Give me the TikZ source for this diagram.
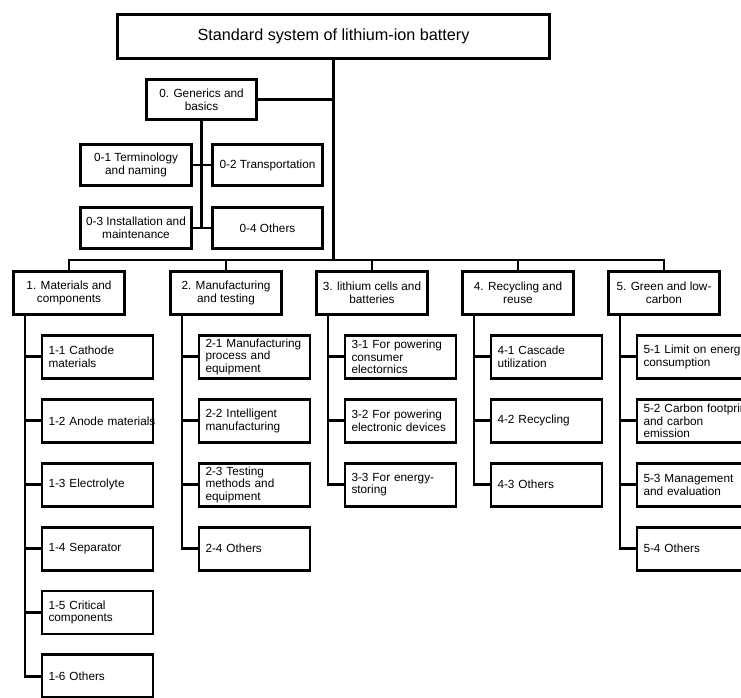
\documentclass[tikz,border=0pt]{standalone}
\usepackage{fontspec}
\setmainfont{Liberation Sans}
\usetikzlibrary{positioning}
\hyphenpenalty=10000
\exhyphenpenalty=10000

\tikzset{
  stdbox/.style={draw, rectangle, line width=2.9pt, align=center, inner sep=2pt,
    font=\fontsize{11.8}{12.6}\selectfont},
  rootbox/.style={stdbox, minimum width=432pt, minimum height=44pt,
    font=\fontsize{16.2}{18}\selectfont},
  groupbox/.style={stdbox, minimum width=111pt, minimum height=43pt},
  itembox/.style={stdbox, align=left, text width=98pt, inner xsep=6.5pt,
    minimum height=43pt},
  link/.style={line width=2.9pt}
}

\begin{document}
\begin{tikzpicture}[x=1pt, y=-1pt, node distance=18pt]
        \useasboundingbox[fill=white] (0,0) rectangle (741,697);
        % root and generics
        \node[rootbox] (top) at (333.5,36.5) {Standard system of lithium-ion battery};
        \node[groupbox, minimum width=110pt, minimum height=40pt] (n0) at (201.5,99.5) {0. Generics and\\basics};
        \node[groupbox, minimum height=41pt] (n01) at (136,165) {0-1 Terminology\\and naming};
        \node[groupbox, minimum width=110pt, minimum height=41pt] (n02) at (267.5,165) {0-2 Transportation};
        \node[groupbox, minimum height=41pt] (n03) at (136,228) {0-3 Installation and\\maintenance};
        \node[groupbox, minimum width=110pt, minimum height=41pt] (n04) at (267.5,228) {0-4 Others};
        % main categories
        \node[groupbox] (m1) at (69,293) {1. Materials and\\components};
        \node[groupbox] (m2) at (226,293) {2. Manufacturing\\and testing};
        \node[groupbox] (m3) at (372,293) {3. lithium cells and\\batteries};
        \node[groupbox] (m4) at (518,293) {4. Recycling and\\reuse};
        \node[groupbox] (m5) at (664,293) {5. Green and low-\\carbon};
        % materials
        \node[itembox, below=of m1, xshift=28.5pt] (c11) {1-1 Cathode\\materials};
        \node[itembox, below=of c11] (c12) {1-2~Anode~materials};
        \node[itembox, below=of c12] (c13) {1-3 Electrolyte};
        \node[itembox, below=of c13] (c14) {1-4 Separator};
        \node[itembox, below=of c14] (c15) {1-5 Critical\\components};
        \node[itembox, below=of c15] (c16) {1-6 Others};
        % manufacturing
        \node[itembox, below=of m2, xshift=28.5pt] (c21) {2-1~Manufacturing\\process and\\equipment};
        \node[itembox, below=of c21] (c22) {2-2 Intelligent\\manufacturing};
        \node[itembox, below=of c22] (c23) {2-3 Testing\\methods and\\equipment};
        \node[itembox, below=of c23] (c24) {2-4 Others};
        % cells
        \node[itembox, below=of m3, xshift=28.5pt] (c31) {3-1 For powering\\consumer\\electornics};
        \node[itembox, below=of c31] (c32) {3-2 For powering\\electronic~devices};
        \node[itembox, below=of c32] (c33) {3-3 For energy-\\storing};
        % recycling
        \node[itembox, below=of m4, xshift=28.5pt] (c41) {4-1 Cascade\\utilization};
        \node[itembox, below=of c41] (c42) {4-2 Recycling};
        \node[itembox, below=of c42] (c43) {4-3 Others};
        % green
        \node[itembox, below=of m5, xshift=28.5pt] (c51) {5-1~Limit~on~energy\\consumption};
        \node[itembox, below=of c51] (c52) {5-2~Carbon~footprint\\and carbon\\emission};
        \node[itembox, below=of c52] (c53) {5-3 Management\\and evaluation};
        \node[itembox, below=of c53] (c54) {5-4 Others};

        % trunk and bus
        \coordinate (bus) at (0,260);
        \draw[link] (top.south) -- (top.south |- bus);
        \draw[link] (n0.east) -- (n0.east -| top.south);
        \draw[link] (m1.north) |- (bus -| m5.north) -- (m5.north);
        \draw[link] (m2.north) -- (m2.north |- bus);
        \draw[link] (m3.north) -- (m3.north |- bus);
        \draw[link] (m4.north) -- (m4.north |- bus);
        % generics
        \draw[link] (n0.south) -- (n0.south |- n03.east);
        \draw[link] (n01.east) -- (n02.west);
        \draw[link] (n03.east) -- (n04.west);
        % spines
        \coordinate (s1) at ([xshift=-44pt]m1.south);
        \coordinate (s2) at ([xshift=-44pt]m2.south);
        \coordinate (s3) at ([xshift=-44pt]m3.south);
        \coordinate (s4) at ([xshift=-44pt]m4.south);
        \coordinate (s5) at ([xshift=-44pt]m5.south);
        \draw[link] (s1) |- (c16.west);
        \draw[link] (c11.west -| s1) -- (c11.west) (c12.west -| s1) -- (c12.west)
                    (c13.west -| s1) -- (c13.west) (c14.west -| s1) -- (c14.west)
                    (c15.west -| s1) -- (c15.west);
        \draw[link] (s2) |- (c24.west);
        \draw[link] (c21.west -| s2) -- (c21.west) (c22.west -| s2) -- (c22.west)
                    (c23.west -| s2) -- (c23.west);
        \draw[link] (s3) |- (c33.west);
        \draw[link] (c31.west -| s3) -- (c31.west) (c32.west -| s3) -- (c32.west);
        \draw[link] (s4) |- (c43.west);
        \draw[link] (c41.west -| s4) -- (c41.west) (c42.west -| s4) -- (c42.west);
        \draw[link] (s5) |- (c54.west);
        \draw[link] (c51.west -| s5) -- (c51.west) (c52.west -| s5) -- (c52.west)
                    (c53.west -| s5) -- (c53.west);
    \end{tikzpicture}
\end{document}
